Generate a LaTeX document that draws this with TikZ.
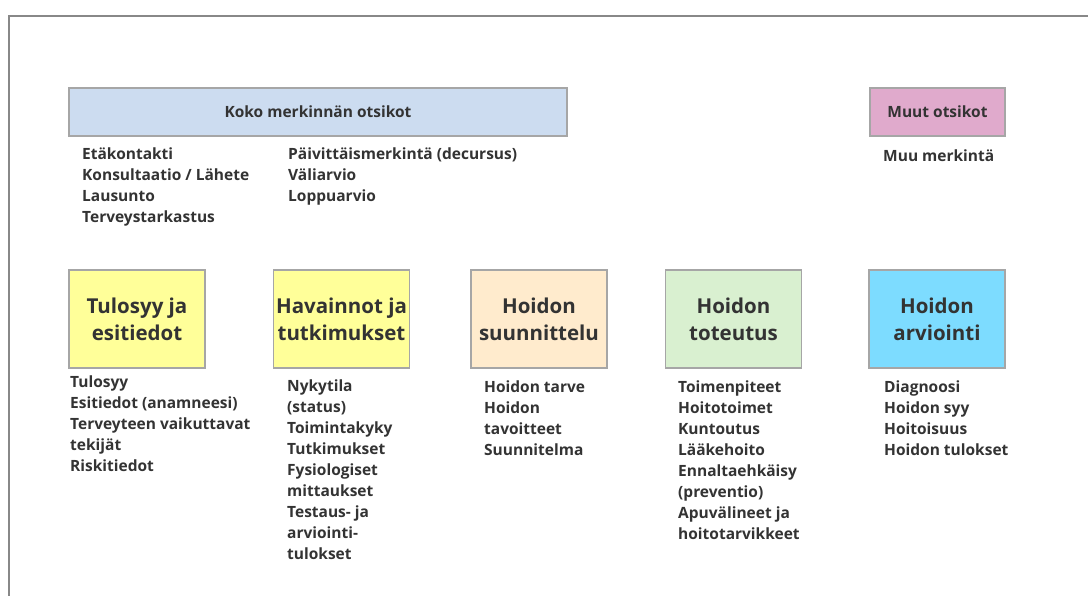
\documentclass[tikz,border=0pt]{standalone}
\usepackage{fontspec}
\setmainfont{Open Sans}
\definecolor{txt}{HTML}{333333}
\definecolor{frm}{HTML}{888888}
\definecolor{bord}{HTML}{A6A6A6}
\definecolor{kokoblue}{HTML}{CCDCF0}
\definecolor{muupink}{HTML}{E0AACC}
\definecolor{yel}{HTML}{FFFF99}
\definecolor{peach}{HTML}{FFEBCD}
\definecolor{lgreen}{HTML}{D9F0D0}
\definecolor{cyanb}{HTML}{7DDCFF}
\begin{document}
\begin{tikzpicture}[x=1pt,y=-1pt,
  frameline/.style={draw=frm,line width=1.6pt},
  headbox/.style={draw=bord,line width=1.2pt,text=txt,inner sep=0pt,
    font=\fontsize{15.5}{18}\selectfont\bfseries},
  phasebox/.style={draw=bord,line width=1.2pt,text=txt,inner sep=0pt,
    minimum width=136pt,minimum height=98pt,align=center,
    font=\fontsize{20.5}{27}\selectfont\bfseries},
  listtext/.style={anchor=north west,inner sep=0pt,align=left,text=txt,
    font=\fontsize{15.5}{21}\selectfont\bfseries}
]
\useasboundingbox (0,0) rectangle (1088,595);
\coordinate (fbl) at (9,596);
\coordinate (ftl) at (9,16);
\coordinate (ftr) at (1089,16);
\draw[frameline] (fbl) -- (ftl) -- (ftr);

\node[headbox,fill=kokoblue,minimum width=498pt,minimum height=48pt] (koko) at (318,112) {Koko merkinnän otsikot};
\node[headbox,fill=muupink,minimum width=135pt,minimum height=48pt] (muut) at (937.5,112) {Muut otsikot};

\node[listtext] (kokoA) at (82,146.5) {\rule{0pt}{12.5pt}Etäkontakti\\Konsultaatio / Lähete\\Lausunto\\Terveystarkastus};
\node[listtext] (kokoB) at (288,146.5) {\rule{0pt}{12.5pt}Päivittäismerkintä (decursus)\\Väliarvio\\Loppuarvio};
\node[listtext] (muuA) at (883,148.5) {\rule{0pt}{12.5pt}Muu merkintä};

\node[phasebox,fill=yel] (p1) at (137,319) {Tulosyy ja\\esitiedot};
\node[phasebox,fill=yel] (p2) at (341.5,319) {Havainnot ja\\tutkimukset};
\node[phasebox,fill=peach] (p3) at (539,319) {Hoidon\\suunnittelu};
\node[phasebox,fill=lgreen] (p4) at (733.5,319) {Hoidon\\toteutus};
\node[phasebox,fill=cyanb] (p5) at (937,319) {Hoidon\\arviointi};

\node[listtext] (l1) at (70,374.5) {\rule{0pt}{12.5pt}Tulosyy\\Esitiedot (anamneesi)\\Terveyteen vaikuttavat\\tekijät\\Riskitiedot};
\node[listtext] (l2) at (287,378.5) {\rule{0pt}{12.5pt}Nykytila\\(status)\\Toimintakyky\\Tutkimukset\\Fysiologiset\\mittaukset\\Testaus- ja\\arviointi-\\tulokset};
\node[listtext] (l3) at (484,379.5) {\rule{0pt}{12.5pt}Hoidon tarve\\Hoidon\\tavoitteet\\Suunnitelma};
\node[listtext] (l4) at (678,379.5) {\rule{0pt}{12.5pt}Toimenpiteet\\Hoitotoimet\\Kuntoutus\\Lääkehoito\\Ennaltaehkäisy\\(preventio)\\Apuvälineet ja\\hoitotarvikkeet};
\node[listtext] (l5) at (884,379.5) {\rule{0pt}{12.5pt}Diagnoosi\\Hoidon syy\\Hoitoisuus\\Hoidon tulokset};
\end{tikzpicture}
\end{document}
